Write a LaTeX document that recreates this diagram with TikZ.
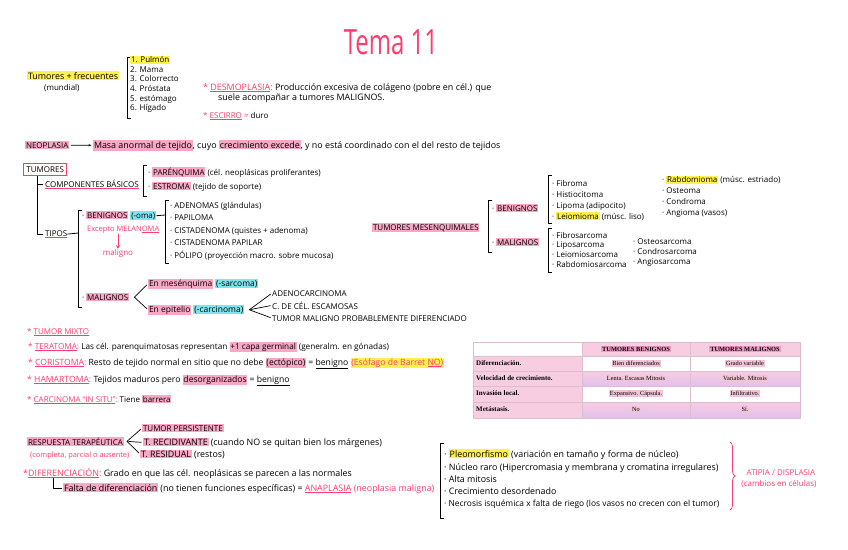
\documentclass[tikz,border=0pt]{standalone}
\usepackage{fontspec}
\usepackage{graphicx}
\setmainfont{Open Sans}
\newfontfamily\tabfont{Liberation Serif}
\usetikzlibrary{arrows.meta,decorations.pathreplacing}
\definecolor{hlpink}{HTML}{F8A8C4}
\definecolor{hlyellow}{HTML}{FFF24C}
\definecolor{hlcyan}{HTML}{80E4EE}
\definecolor{pinktxt}{HTML}{FF3C6E}
\definecolor{tabpink}{HTML}{F7CDE2}
\definecolor{tabhead}{HTML}{F39CC6}
\definecolor{tablila}{HTML}{E3C0EC}
\definecolor{tabcell}{HTML}{F2C4D8}
\newcommand\fs{\fontsize{8}{9.6}\selectfont}
\newcommand\fl{\fontsize{8.9}{10}\selectfont}
\newcommand\hlbox[2]{{\setlength\fboxsep{0.8pt}\colorbox{#1}{#2}}}
\newcommand\hp[1]{\hlbox{hlpink}{#1}}
\newcommand\hy[1]{\hlbox{hlyellow}{#1}}
\newcommand\hc[1]{\hlbox{hlcyan}{#1}}
\newcommand\pul[1]{\rlap{\textcolor{pinktxt}{\underline{\phantom{#1}}}}#1}
\newcommand\bul[1]{\underline{#1}}
\newcommand\pk[1]{\textcolor{pinktxt}{#1}}
\newcommand\sqbr[3]{\draw[brk] (#1+4,#2) -- (#1,#2) -- (#1,#3) -- (#1+4,#3);}
\begin{document}
\begin{tikzpicture}[x=1pt, y=-1pt,
  txt/.style={anchor=base west, inner sep=0pt, yshift=-3pt, font=\fs},
  pkt/.style={txt, text=pinktxt},
  brk/.style={line width=0.8pt, line join=round},
  link/.style={line width=0.7pt, shorten >=1.5pt, shorten <=1.5pt},
  tab/.style={inner sep=0pt, font=\tabfont\fontsize{6.4}{7}\selectfont\bfseries},
  cell/.style={inner sep=0pt, font=\tabfont\fontsize{6.3}{7}\selectfont}]
  \path[fill=white] (0,0) rectangle (848,549);
  \useasboundingbox (0,0) rectangle (848,549);
  % Title
  \node[text=pinktxt, inner sep=0pt] (title) at (391,42)
    {\scalebox{1}[1.45]{\fontsize{24}{24}\selectfont Tema 11}};
  % Most frequent tumours
  \node[txt, font=\fl] (frec) at (27,76) {\hy{Tumores + frecuentes}};
  \node[txt] (mund) at (44,87) {(mundial)};
  \sqbr{127}{57}{118}
  \foreach \t [count=\i] in {\hy{1. Pulmón}, 2. Mama, 3. Colorrecto,
                             4. Próstata, 5. estómago, 6. Hígado}
    \node[txt] (top\i) at (130,50+9.6*\i) {\t};
  % Desmoplasia / escirro
  \node[txt, font=\fl] (desmo) at (203,87) {\pk{* \pul{DESMOPLASIA}:} Producción excesiva de colágeno (pobre en cél.) que};
  \node[txt, font=\fl] (desmo2) at (218,97) {suele acompañar a tumores MALIGNOS.};
  \node[txt] (escirro) at (203,115) {\pk{* \pul{ESCIRRO} =} duro};
  % Neoplasia
  \node[txt] (neo) at (25,145) {\hp{NEOPLASIA}};
  \node[txt, font=\fl] (masa) at (93,145) {\hp{Masa anormal de tejido}, cuyo \hp{crecimiento excede}, y no está coordinado con el del resto de tejidos};
  \draw[link, -{Stealth[length=3pt]}] (neo) -- (masa);
  % Tumores tree
  \node[txt, draw=pinktxt, line width=0.9pt, inner sep=3pt] (tum) at (23,169) {TUMORES};
  \coordinate (trunk) at ([xshift=14pt]tum.south west);
  \node[txt] (comp) at (45,184) {\pul{COMPONENTES BÁSICOS}};
  \node[txt] (tipos) at (45,233) {\pul{TIPOS}};
  \draw[brk, shorten >=2pt] (trunk) |- (tipos.west);
  \draw[brk, shorten >=2pt] (trunk |- comp.west) -- (comp.west);
  \sqbr{143}{165}{196}
  \node[txt] (paren) at (148,172) {· \hp{PARÉNQUIMA} (cél. neoplásicas proliferantes)};
  \node[txt] (estro) at (148,186) {· \hp{ESTROMA} (tejido de soporte)};
  % Tipos
  \sqbr{78}{210}{307}
  \coordinate (tbr) at (78,233);
  \draw[brk] (tipos.east) -- (tbr);
  \node[txt] (ben) at (82,215) {· \hp{BENIGNOS} \hc{(-oma)}};
  \coordinate (bbr) at (165,215);
  \draw[brk] (ben.east) -- (bbr);
  \sqbr{165}{200}{263}
  \foreach \t [count=\i] in {ADENOMAS (glándulas), PAPILOMA,
      CISTADENOMA (quistes + adenoma), CISTADENOMA PAPILAR,
      PÓLIPO (proyección macro. sobre mucosa)}
    \node[txt] (bitem\i) at (170,192.5+12.5*\i) {· \t};
  \node[pkt, font=\fontsize{7.5}{9}\selectfont] (excep) at (87,228) {Excepto MELAN\pul{OMA}};
  \node[pkt, anchor=base] (maligno) at (118,252) {maligno};
  \draw[pinktxt, line width=0.8pt, shorten <=1pt, -{Stealth[length=3.5pt, width=4pt]}] (excep.south -| maligno.north) -- (maligno.north);
  \node[txt] (mal) at (82,297) {· \hp{MALIGNOS}};
  \node[txt, font=\fontsize{8.4}{10}\selectfont] (mes) at (148,283) {\hp{En mesénquima} \hc{(-sarcoma)}};
  \node[txt, font=\fontsize{8.5}{10}\selectfont] (epi) at (148,309) {\hp{En epitelio} \hc{(-carcinoma)}};
  \coordinate (mfork) at ([xshift=5pt]mal.east);
  \draw[link] (mes.west) -- (mfork) -- (epi.west);
  \node[txt] (adeno) at (272,293) {ADENOCARCINOMA};
  \node[txt] (escam) at (272,306) {C. DE CÉL. ESCAMOSAS};
  \node[txt] (probd) at (272,318) {TUMOR MALIGNO PROBABLEMENTE DIFERENCIADO};
  \coordinate (efork) at ([xshift=5pt]epi.east);
  \draw[link] (adeno.west) -- (efork) -- (probd.west);
  \draw[link] (efork) -- (escam.west);
  % Tumores mesenquimales
  \node[txt] (tmes) at (372,227) {\hp{TUMORES MESENQUIMALES}};
  \sqbr{488}{200}{252}
  \node[txt] (mben) at (492,208) {· \hp{BENIGNOS}};
  \node[txt] (mmal) at (492,242) {· \hp{MALIGNOS}};
  \sqbr{548}{175}{223}
  \foreach \t [count=\i] in {Fibroma, Histiocitoma, Lipoma (adipocito),
                             \hy{Leiomioma} (músc. liso)}
    \node[txt] (mb\i) at (552,172+11*\i) {· \t};
  \foreach \t [count=\i] in {\hy{Rabdomioma} (músc. estriado), Osteoma,
                             Condroma, Angioma (vasos)}
    \node[txt] (mbb\i) at (662,169+10.8*\i) {· \t};
  \sqbr{548}{228}{272}
  \foreach \t [count=\i] in {Fibrosarcoma, Liposarcoma, Leiomiosarcoma,
                             Rabdomiosarcoma}
    \node[txt] (mm\i) at (552,225.5+9.7*\i) {· \t};
  \foreach \t [count=\i] in {Osteosarcoma, Condrosarcoma, Angiosarcoma}
    \node[txt] (mmm\i) at (633,231+10*\i) {· \t};
  % Notes
  \node[pkt] (mixto) at (27,331) {* \pul{TUMOR MIXTO}};
  \node[txt, font=\fontsize{8.2}{10}\selectfont] (terat) at (28,346) {\pk{* \pul{TERATOMA}:} Las cél. parenquimatosas representan \hp{+1 capa germinal} (generalm. en gónadas)};
  \node[txt, font=\fontsize{8.6}{10}\selectfont] (corist) at (28,362) {\pk{* \pul{CORISTOMA}:} Resto de tejido normal en sitio que no debe \hp{(ectópico)} = \bul{benigno} \hy{\pk{(Esófago de Barret \pul{NO})}}};
  \node[txt, font=\fontsize{8.6}{10}\selectfont] (hamart) at (27,379) {\pk{* \pul{HAMARTOMA}:} Tejidos maduros pero \hp{desorganizados} = \bul{benigno}};
  \node[txt] (insitu) at (27,399) {\pk{* \pul{CARCINOMA “IN SITU”}:} Tiene \hp{barrera}};
  % Table
  \fill[tabpink] (582,342) rectangle (800,356);
  \fill[tabpink] (473,356) rectangle (582,418);
  \shade[top color=tabpink, bottom color=tablila] (582,371) rectangle (800,386);
  \shade[top color=tabpink, bottom color=tablila] (582,402) rectangle (800,418);
  \draw[tabpink!80!gray, line width=0.3pt] (473,356) -- (800,356) (473,371) -- (800,371)
    (473,386) -- (800,386) (473,402) -- (800,402) (582,342) -- (582,418) (690,342) -- (690,418);
  \draw[tabpink!80!gray, line width=0.3pt] (473,342) rectangle (800,418);
  \node[tab] (hben) at (636,349) {\hlbox{tabhead}{TUMORES BENIGNOS}};
  \node[tab] (hmal) at (745,349) {\hlbox{tabhead}{TUMORES MALIGNOS}};
  \foreach \r/\lab/\bv/\mv [count=\i] in {356/Diferenciación./Bien diferenciados/Grado variable,
      371/Velocidad de crecimiento./Lenta. Escasas Mitosis/Variable. Mitosis,
      386/Invasión local./Expansivo. Cápsula./Infiltrativo.,
      402/Metástasis./No/Sí.} {
    \node[tab, anchor=west, font=\tabfont\fontsize{7}{8}\selectfont\bfseries] (lab\i) at (476,\r+7.5) {\lab};
    \node[cell] (bv\i) at (636,\r+7.5) {\hlbox{tabcell}{\bv}};
    \node[cell] (mv\i) at (745,\r+7.5) {\hlbox{tabcell}{\mv}};
  }
  % Respuesta terapeutica
  \node[txt] (resp) at (27,442) {\hp{RESPUESTA TERAPÉUTICA}};
  \node[pkt, font=\fontsize{7.4}{9}\selectfont] (compl) at (30,454) {(completa, parcial o ausente)};
  \coordinate (rfork) at ([xshift=3pt]resp.east);
  \node[txt] (persis) at (142,428) {\hp{TUMOR PERSISTENTE}};
  \node[txt, font=\fl] (recid) at (143,442) {\hp{T. RECIDIVANTE} (cuando NO se quitan bien los márgenes)};
  \node[txt, font=\fl] (resid) at (140,454) {\hp{T. RESIDUAL} (restos)};
  \draw[link] (persis.west) -- (rfork) -- (resid.west);
  \draw[link] (rfork) -- (recid.west);
  % Diferenciacion
  \node[txt, font=\fl] (difer) at (23,473) {\pk{*\pul{DIFERENCIACIÓN}:} Grado en que las cél. neoplásicas se parecen a las normales};
  \node[txt, font=\fl] (falta) at (63,488) {\hp{Falta de diferenciación} (no tienen funciones específicas) = \pk{\pul{ANAPLASIA} (neoplasia maligna)}};
  \draw[brk, shorten >=1pt] ([xshift=30pt]difer.south west) |- (falta.west);
  % Atipia
  \sqbr{440}{443}{518}
  \node[txt, font=\fl] (at1) at (444,454) {· \hy{Pleomorfismo} (variación en tamaño y forma de núcleo)};
  \node[txt, font=\fl] (at2) at (444,467) {· Núcleo raro (Hipercromasia y membrana y cromatina irregulares)};
  \node[txt, font=\fl] (at3) at (444,479) {· Alta mitosis};
  \node[txt, font=\fl] (at4) at (444,491) {· Crecimiento desordenado};
  \node[txt, font=\fontsize{8.4}{10}\selectfont] (at5) at (444,503) {· Necrosis isquémica x falta de riego (los vasos no crecen con el tumor)};
  \draw[pinktxt, line width=0.8pt, decorate, decoration={brace, amplitude=5pt}] (730,442) -- (730,510);
  \node[pkt, anchor=base] (atipia) at (781,472) {ATIPIA / DISPLASIA};
  \node[pkt, anchor=base] (cambios) at (779,483) {(cambios en células)};
\end{tikzpicture}
\end{document}
